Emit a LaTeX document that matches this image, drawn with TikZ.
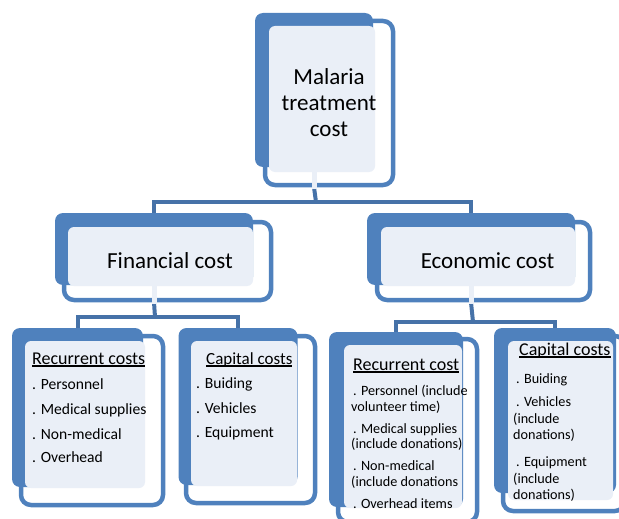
\documentclass[tikz,border=0pt]{standalone}
\usepackage{fontspec}
\setmainfont{Carlito}
\definecolor{bluefill}{HTML}{4F81BD}
\definecolor{connblue}{HTML}{4672A8}
\definecolor{lightfill}{HTML}{EAEFF7}
\newcommand\myul[1]{\setbox0\hbox{#1}\rlap{\rule[-2.6pt]{\wd0}{1.2pt}}\box0}
\tikzset{
  outbox/.style={rectangle, draw=bluefill, line width=4.5pt, fill=white, rounded corners=10pt, inner sep=0pt},
  backbox/.style={rectangle, fill=bluefill, rounded corners=8pt, inner sep=0pt},
  lightbox/.style={rectangle, fill=lightfill, rounded corners=6pt, inner sep=0pt},
  conn/.style={draw=connblue, line width=4pt},
  stripe/.style={draw=lightfill, line width=5pt},
  bigtxt/.style={font=\fontsize{23}{26}\selectfont, align=center, inner sep=0pt},
  midtxt/.style={font=\fontsize{23}{26}\selectfont, anchor=base, inner sep=0pt},
  ttl/.style={font=\fontsize{18}{21}\selectfont, anchor=base west, inner sep=0pt},
  itemA/.style={font=\fontsize{15.6}{18}\selectfont, anchor=base west, inner sep=0pt},
  itemB/.style={font=\fontsize{14.2}{16}\selectfont, anchor=base west, inner sep=0pt},
}
\begin{document}
\begin{tikzpicture}[x=1pt,y=-1pt]
\useasboundingbox (0,0) rectangle (619,519);
\clip (0,0) rectangle (619,519);
% junction coordinates
\coordinate (j0) at (316,202);
\coordinate (j1) at (155,317);
\coordinate (j2) at (473,322);
% outline boxes
\node[outbox, minimum width=128pt, minimum height=164pt] (Otop) at (329,103) {};
\node[outbox, minimum width=207pt, minimum height=78pt] (Ofin) at (167.5,261) {};
\node[outbox, minimum width=213pt, minimum height=78pt] (Oeco) at (483.5,261) {};
\node[outbox, minimum width=142pt, minimum height=169pt] (Oa) at (92,420.5) {};
\node[outbox, minimum width=129pt, minimum height=167pt] (Ob) at (250.5,419.5) {};
\node[outbox, minimum width=139pt, minimum height=183pt] (Oc) at (407.5,430.5) {};
\node[outbox, minimum width=122pt, minimum height=175pt] (Od) at (564,423.5) {};
% back boxes
\node[backbox, minimum width=118pt, minimum height=154pt] (Btop) at (314,90) {};
\node[backbox, minimum width=198pt, minimum height=72pt] (Bfin) at (154,249) {};
\node[backbox, minimum width=208pt, minimum height=72pt] (Beco) at (471,249) {};
\node[backbox, minimum width=131pt, minimum height=159pt] (Ba) at (77.5,407.5) {};
\node[backbox, minimum width=119pt, minimum height=157pt] (Bb) at (238,406.5) {};
\node[backbox, minimum width=134pt, minimum height=175pt] (Bc) at (396,419.5) {};
\node[backbox, minimum width=122pt, minimum height=165pt] (Bd) at (555,410.5) {};
% light boxes
\node[lightbox, minimum width=106pt, minimum height=146pt] (Ltop) at (322,99) {};
\node[lightbox, minimum width=185pt, minimum height=59pt] (Lfin) at (160.5,256.5) {};
\node[lightbox, minimum width=194pt, minimum height=59pt] (Leco) at (478,256.5) {};
\node[lightbox, minimum width=120pt, minimum height=147pt] (La) at (85,414.5) {};
\node[lightbox, minimum width=106pt, minimum height=145pt] (Lb) at (244,413.5) {};
\node[lightbox, minimum width=118pt, minimum height=163pt] (Lc) at (403,426.5) {};
\node[lightbox, minimum width=105pt, minimum height=159pt] (Ld) at (560.5,420.5) {};
% connectors
\draw[conn] (Btop.south |- Otop.south) -- (j0);
\draw[conn] (Bfin.north) |- (j0) -| (Beco.north);
\draw[conn] (Bfin.south |- Ofin.south) -- (j1);
\draw[conn] (Ba.north) |- (j1) -| (Bb.north);
\draw[conn] (Beco.south |- Oeco.south) -- (j2);
\draw[conn] (Bc.north) |- (j2) -| (Bd.north);
% light stripes through the outline
\draw[stripe] (Btop.south |- Ltop.south) -- ([yshift=-2pt]Btop.south |- Otop.south);
\draw[stripe] (Bfin.south |- Lfin.south) -- ([yshift=-2pt]Bfin.south |- Ofin.south);
\draw[stripe] (Beco.south |- Leco.south) -- ([yshift=-2pt]Beco.south |- Oeco.south);
% texts
\node[bigtxt] (ttop) at (329,103) {Malaria\\treatment\\cost};
\node[midtxt] (tfin) at (170,268) {Financial cost};
\node[midtxt] (teco) at (487.5,268) {Economic cost};
% box a
\node[ttl] (ta0) at (32,364) {\myul{Recurrent costs}};
\node[itemA] (ta1) at (32,389) {. Personnel};
\node[itemA] (ta2) at (32,414) {. Medical supplies};
\node[itemA] (ta3) at (32,439) {. Non-medical};
\node[itemA] (ta4) at (32,462) {. Overhead};
% box b
\node[ttl, font=\fontsize{17}{20}\selectfont] (tb0) at (206,364) {\myul{Capital costs}};
\node[itemA] (tb1) at (196,388) {. Buiding};
\node[itemA] (tb2) at (196,413) {. Vehicles};
\node[itemA] (tb3) at (196,437) {. Equipment};
% box c
\node[ttl] (tc0) at (353,370) {\myul{Recurrent cost}};
\node[itemB] (tc1) at (353,395) {. Personnel (include};
\node[itemB] (tc2) at (351,411) {volunteer time)};
\node[itemB] (tc3) at (353,433) {. Medical supplies};
\node[itemB] (tc4) at (351,448) {(include donations)};
\node[itemB] (tc5) at (353,470) {. Non-medical};
\node[itemB] (tc6) at (351,486) {(include donations};
\node[itemB] (tc7) at (353,508) {. Overhead items};
% box d
\node[ttl] (td0) at (519,355) {\myul{Capital costs}};
\node[itemB] (td1) at (516,383) {. Buiding};
\node[itemB] (td2) at (516,406) {. Vehicles};
\node[itemB] (td3) at (513,423) {(include};
\node[itemB] (td4) at (513,439) {donations)};
\node[itemB] (td5) at (516,466) {. Equipment};
\node[itemB] (td6) at (513,483) {(include};
\node[itemB] (td7) at (513,499) {donations)};
\end{tikzpicture}
\end{document}
